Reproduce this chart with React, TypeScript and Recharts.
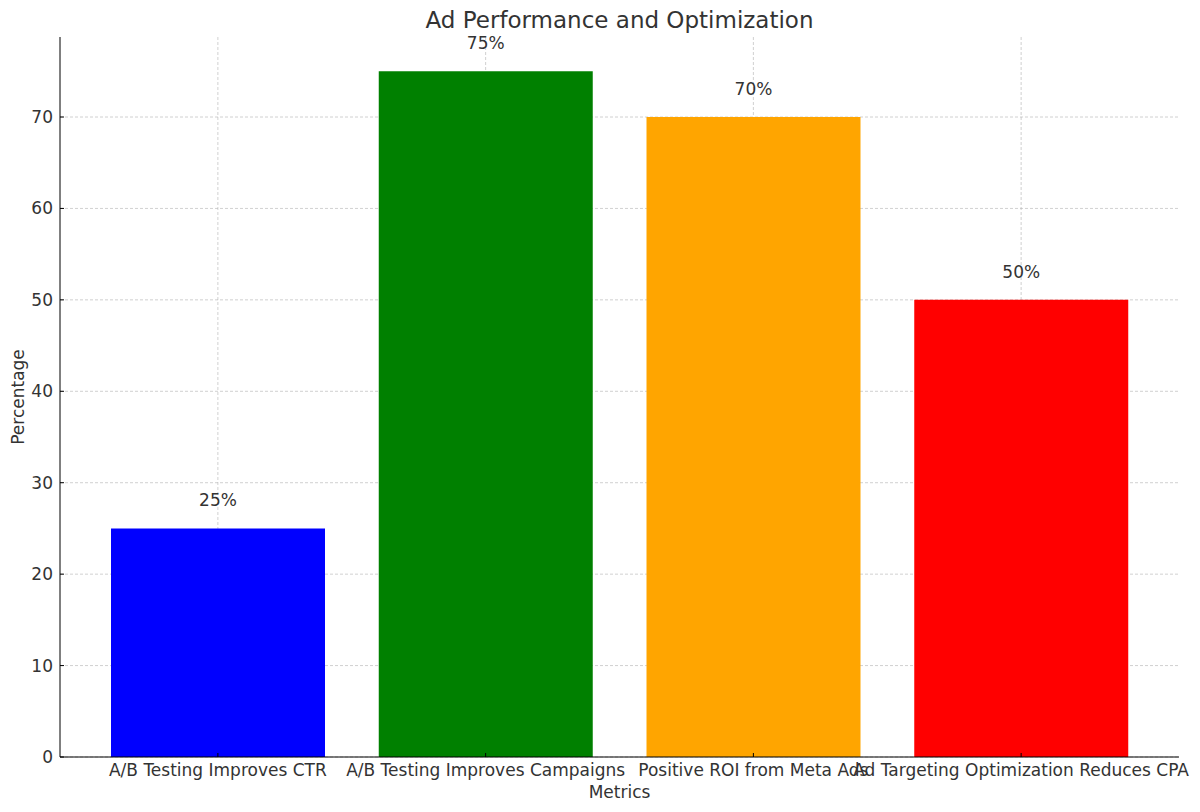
import { BarChart, Bar, XAxis, YAxis, CartesianGrid, Cell, LabelList } from 'recharts';

const metrics = [
  'A/B Testing Improves CTR',
  'A/B Testing Improves Campaigns',
  'Positive ROI from Meta Ads',
  'Ad Targeting Optimization Reduces CPA',
];
const percentages = [25, 75, 70, 50];
const barColors = ['#0000ff', '#008000', '#ffa500', '#ff0000'];
const yTicks = [0, 10, 20, 30, 40, 50, 60, 70];

const data = metrics.map((name, i) => ({ name, value: percentages[i] }));

const font = "'DejaVu Sans', sans-serif";
const textColor = '#333333';
const fs = 17;

const YLabel = (props: any) => {
  const vb = props.viewBox || {};
  const cx = vb.x + 24;
  const cy = vb.y + vb.height / 2;
  return (
    <text
      x={cx}
      y={cy}
      transform={`rotate(-90, ${cx}, ${cy})`}
      textAnchor="middle"
      fill={textColor}
      fontSize={fs}
      fontFamily={font}
    >
      Percentage
    </text>
  );
};

const App = () => {
  return (
    <div style={{ width: 1200, height: 812, position: 'relative', fontFamily: font }}>
      <style>{'body { margin: 0; }'}</style>
      <div
        style={{
          position: 'absolute',
          top: 5,
          left: 0,
          width: 1239,
          textAlign: 'center',
          fontSize: 23,
          lineHeight: '30px',
          color: textColor,
        }}
      >
        Ad Performance and Optimization
      </div>
      <BarChart
        width={1200}
        height={812}
        data={data}
        margin={{ top: 37, right: 21, bottom: 0, left: 0 }}
      >
        <XAxis
          dataKey="name"
          height={55}
          padding={{ left: 24, right: 24 }}
          stroke="#000"
          tickSize={-4}
          tickMargin={11}
          interval={0}
          tick={{ fill: textColor, fontSize: fs, fontFamily: font }}
          label={{ value: 'Metrics', position: 'insideBottom', offset: 14, fill: textColor, fontSize: fs, fontFamily: font }}
        />
        <YAxis
          width={60}
          domain={[0, 78.75]}
          ticks={yTicks}
          stroke="#000"
          tickSize={-4}
          tickMargin={11}
          tick={{ fill: textColor, fontSize: fs, fontFamily: font }}
          label={<YLabel />}
        />
        <Bar dataKey="value" barSize={214} isAnimationActive={false}>
          {data.map((d, i) => (
            <Cell key={d.name} fill={barColors[i]} />
          ))}
          <LabelList
            dataKey="value"
            position="top"
            offset={22}
            formatter={(v: any) => `${v}%`}
            style={{ fill: textColor, fontSize: fs, fontFamily: font }}
          />
        </Bar>
        <CartesianGrid stroke="#b0b0b0" strokeOpacity={0.6} strokeDasharray="3 2" syncWithTicks />
      </BarChart>
    </div>
  );
};

export default App;
